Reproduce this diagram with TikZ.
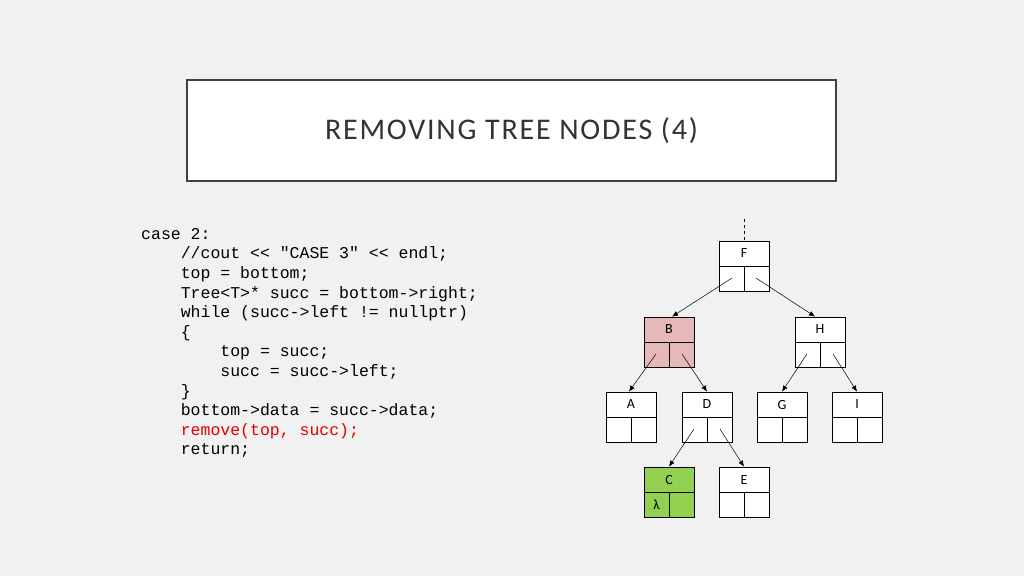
\documentclass[tikz,border=0pt]{standalone}
\usepackage{fontspec}
\setmainfont{Carlito}
\setmonofont{Liberation Mono}
\usetikzlibrary{calc,arrows.meta}
\definecolor{bg}{HTML}{F1F1F1}
\definecolor{pinkf}{HTML}{E6B8B7}
\definecolor{greenf}{HTML}{92D050}
\definecolor{codered}{HTML}{E00000}
\tikzset{
  tbox/.style={draw=black, line width=0.8pt, minimum width=50pt, minimum height=50pt, inner sep=0pt},
  link/.style={-{Latex[length=6pt,width=5pt]}, line width=0.5pt},
}
\newcommand{\tn}[5]{%
  \node[tbox, fill=#5] (#1) at (#2,#3) {};
  \draw[line width=0.8pt] (#1.west) -- (#1.east) (#1.center) -- (#1.south);
  \node[font=\fontsize{14}{16}\selectfont] (#1l) at ($(#1.center)+(0,-12.5)$) {#4};
}
\begin{document}
\begin{tikzpicture}[x=1pt,y=-1pt]
\path[fill=bg] (0,0) rectangle (1024,576);
\useasboundingbox (0,0) rectangle (1024,576);
\node[draw=black!75, line width=2pt, fill=white, minimum width=649pt, minimum height=101pt, inner sep=0pt] (title) at (511.5,130.5) {};
\node[font=\fontsize{30}{32}\selectfont\addfontfeature{LetterSpace=6}, text=black!80] (tt) at (511.5,131) {REMOVING TREE NODES (4)};
\node[anchor=north west, align=left, font=\fontsize{16.5}{19.6}\selectfont\ttfamily, inner sep=0pt] (code) at (141,228) {%
case 2:\\
\ \ \ \ //cout << "CASE 3" << endl;\\
\ \ \ \ top = bottom;\\
\ \ \ \ Tree<T>* succ = bottom->right;\\
\ \ \ \ while (succ->left != nullptr)\\
\ \ \ \ \{\\
\ \ \ \ \ \ \ \ top = succ;\\
\ \ \ \ \ \ \ \ succ = succ->left;\\
\ \ \ \ \}\\
\ \ \ \ bottom->data = succ->data;\\
\ \ \ \ \textcolor{codered}{remove(top, succ);}\\
\ \ \ \ return;};
\tn{F}{744}{266}{F}{white}
\tn{B}{669}{342}{B}{pinkf}
\tn{H}{820}{342}{H}{white}
\tn{A}{631}{417}{A}{white}
\tn{D}{707}{417}{D}{white}
\tn{G}{782}{417}{G}{white}
\tn{I}{857}{417}{I}{white}
\tn{C}{669}{492}{C}{greenf}
\tn{E}{744}{492}{E}{white}
\node[font=\fontsize{14}{16}\selectfont] (lam) at ($(C.center)+(-12.5,13)$) {λ};
\coordinate (top) at (744,219);
\draw[dashed, line width=0.6pt] (top) -- (F.north);
\draw[link] ($(F.center)+(-12,12)$) -- ($(B.north)+(3,0)$);
\draw[link] ($(F.center)+(12,12)$) -- ($(H.north)+(-5,0)$);
\draw[link] ($(B.center)+(-13,12)$) -- ($(A.north)+(-2,0)$);
\draw[link] ($(B.center)+(13,12)$) -- (D.north);
\draw[link] ($(H.center)+(-13,12)$) -- (G.north);
\draw[link] ($(H.center)+(13,12)$) -- (I.north);
\draw[link] ($(D.center)+(-13,12)$) -- (C.north);
\draw[link] ($(D.center)+(13,12)$) -- (E.north);
\end{tikzpicture}
\end{document}
